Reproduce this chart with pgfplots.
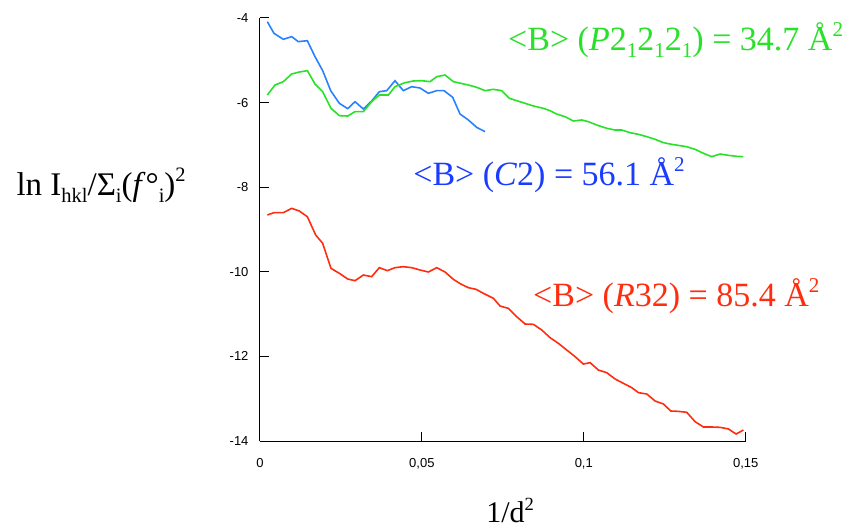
\documentclass[border=0pt]{standalone}
\usepackage{fontspec}
\setmainfont{Liberation Serif}
\setsansfont{Liberation Sans}
\usepackage{graphicx}
\usepackage{pgfplots}
\pgfplotsset{compat=1.18}
\definecolor{cgreen}{RGB}{40,225,40}
\definecolor{cblueline}{RGB}{40,130,255}
\definecolor{cbluetext}{RGB}{25,60,255}
\definecolor{cred}{RGB}{255,45,15}
\newcommand{\sups}[1]{\raisebox{0.40em}{\scalebox{0.62}{#1}}}
\newcommand{\subs}[1]{\raisebox{-0.22em}{\scalebox{0.62}{#1}}}
\begin{document}
\begin{tikzpicture}
\useasboundingbox (-260pt,-87pt) rectangle (589pt,441pt);
\begin{axis}[
  at={(0pt,0pt)}, anchor=south west,
  scale only axis, width=485.7pt, height=423pt,
  xmin=0, xmax=0.15, ymin=-14, ymax=-4,
  axis x line=bottom, axis y line=left,
  axis line style={line width=1pt,-},
  every tick/.style={black,line width=1pt},
  major tick length=9pt, tick align=inside,
  xtick={0,0.05,0.1,0.15}, xticklabels={0,{0,05},{0,1},{0,15}},
  ytick={-14,-12,-10,-8,-6,-4},
  /pgf/number format/assume math mode=true,
  tick label style={font=\sffamily\fontsize{13}{15}\selectfont},
  xticklabel style={yshift=-14pt},
  yticklabel style={xshift=-8pt},
  clip=false,
  xlabel={1/d\sups{2}},
  xlabel style={font=\fontsize{30}{36}\selectfont, at={(axis description cs:0.515,0)}, anchor=base, yshift=-81pt},
  ylabel={ln I\subs{hkl}/Σ\subs{i}(\textit{f}°\subs{i})\sups{2}},
  ylabel style={font=\fontsize{33}{38}\selectfont, rotate=-90, at={(axis description cs:0,0)}, anchor=base west, xshift=-247pt, yshift=246pt},
]
\addplot[color=cblueline, line width=1.6pt] coordinates {
(0.00227,-4.087) (0.00432,-4.362) (0.00721,-4.504) (0.00978,-4.441) (0.01184,-4.559)
(0.01462,-4.536) (0.01699,-4.914) (0.01936,-5.245) (0.02183,-5.718) (0.02451,-6.017)
(0.02708,-6.143) (0.02935,-5.978) (0.03192,-6.151) (0.03449,-5.962) (0.03686,-5.742)
(0.03913,-5.718) (0.0417,-5.482) (0.04427,-5.718) (0.04685,-5.623) (0.04942,-5.655)
(0.052,-5.781) (0.05457,-5.718) (0.05684,-5.718) (0.05951,-5.875) (0.06178,-6.270)
(0.06435,-6.411) (0.06693,-6.585) (0.0695,-6.687)
};
\addplot[color=cgreen, line width=1.6pt] coordinates {
(0.00227,-5.820) (0.00463,-5.584) (0.00721,-5.505) (0.00978,-5.324) (0.01215,-5.277)
(0.01462,-5.245) (0.01699,-5.560) (0.01936,-5.742) (0.02193,-6.136) (0.02451,-6.309)
(0.02708,-6.317) (0.02935,-6.214) (0.03192,-6.214) (0.03449,-5.978) (0.03686,-5.820)
(0.03964,-5.820) (0.0417,-5.623) (0.04479,-5.529) (0.04736,-5.489) (0.04994,-5.482)
(0.05251,-5.505) (0.05457,-5.387) (0.05715,-5.348) (0.05972,-5.505) (0.06435,-5.584)
(0.06693,-5.639) (0.0695,-5.718) (0.07208,-5.686) (0.07465,-5.718) (0.07702,-5.899)
(0.07928,-5.954) (0.08186,-6.017) (0.08443,-6.080) (0.08752,-6.136) (0.08958,-6.191)
(0.09164,-6.270) (0.09421,-6.333) (0.09679,-6.435) (0.09936,-6.411) (0.10142,-6.451)
(0.104,-6.530) (0.10709,-6.608) (0.10966,-6.648) (0.11172,-6.648) (0.11429,-6.711)
(0.11687,-6.750) (0.11944,-6.805) (0.12201,-6.868) (0.12459,-6.947) (0.12716,-6.987)
(0.12974,-7.018) (0.1318,-7.042) (0.13437,-7.105) (0.13694,-7.199) (0.13952,-7.278)
(0.14209,-7.215) (0.14467,-7.247) (0.14724,-7.270) (0.1493,-7.278)
};
\addplot[color=cred, line width=1.6pt] coordinates {
(0.00227,-8.657) (0.00432,-8.602) (0.00721,-8.602) (0.00978,-8.500) (0.01215,-8.563)
(0.01462,-8.697) (0.0172,-9.130) (0.01936,-9.327) (0.02193,-9.918) (0.02451,-10.036)
(0.02708,-10.170) (0.02935,-10.210) (0.03192,-10.076) (0.03449,-10.115) (0.03686,-9.902)
(0.03933,-9.973) (0.0417,-9.902) (0.04427,-9.879) (0.04685,-9.902) (0.04942,-9.957)
(0.052,-10.005) (0.05457,-9.902) (0.05715,-10.005) (0.05972,-10.178) (0.06199,-10.288)
(0.06435,-10.375) (0.06672,-10.414) (0.06899,-10.509) (0.07208,-10.627) (0.07414,-10.809)
(0.07671,-10.864) (0.07928,-11.061) (0.08186,-11.234) (0.08443,-11.242) (0.08701,-11.376)
(0.08958,-11.557) (0.09215,-11.691) (0.09473,-11.849) (0.0973,-12.006) (0.09988,-12.180)
(0.10194,-12.148) (0.10451,-12.322) (0.10709,-12.385) (0.10966,-12.534) (0.11223,-12.637)
(0.11481,-12.739) (0.11687,-12.857) (0.11944,-12.889) (0.12201,-13.054) (0.12459,-13.125)
(0.12686,-13.291) (0.12922,-13.299) (0.1318,-13.322) (0.13437,-13.543) (0.13694,-13.669)
(0.13952,-13.669) (0.14209,-13.677) (0.14467,-13.716) (0.14704,-13.835) (0.1493,-13.740)
};
\node[anchor=base west, text=cgreen, font=\fontsize{34}{40}\selectfont, inner sep=0pt] at (axis cs:0.0766,-4.757)
  {<B> (\textit{P}2\subs{1}2\subs{1}2\subs{1}) = 34.7 Å\sups{2}};
\node[anchor=base west, text=cbluetext, font=\fontsize{34}{40}\selectfont, inner sep=0pt] at (axis cs:0.0473,-7.948)
  {<B> (\textit{C}2) = 56.1 Å\sups{2}};
\node[anchor=base west, text=cred, font=\fontsize{34}{40}\selectfont, inner sep=0pt] at (axis cs:0.0843,-10.81)
  {<B> (\textit{R}32) = 85.4 Å\sups{2}};
\end{axis}
\end{tikzpicture}
\end{document}
